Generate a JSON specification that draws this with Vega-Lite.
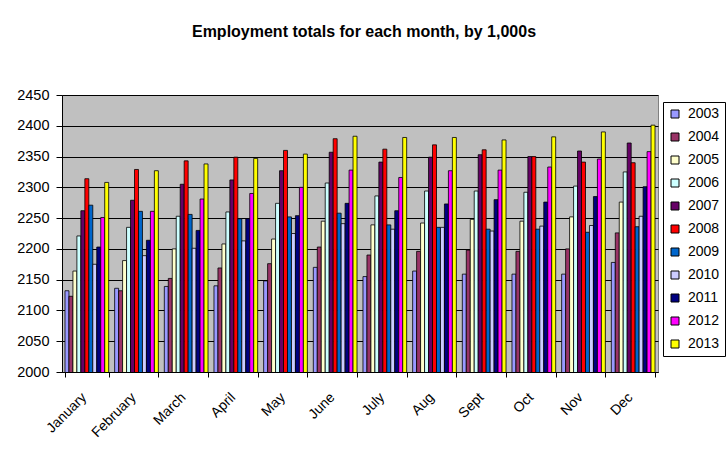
{
  "$schema": "https://vega.github.io/schema/vega-lite/v6.json",
  "autosize": {"type": "none"},
  "width": 596,
  "height": 277,
  "padding": {"left": 62, "top": 95, "right": 70, "bottom": 86},
  "background": "white",
  "title": {
    "text": "Employment totals for each month, by 1,000s",
    "font": "Liberation Sans",
    "fontSize": 16,
    "fontWeight": "bold",
    "color": "black",
    "anchor": "middle",
    "frame": "group",
    "baseline": "alphabetic",
    "offset": 34,
    "dx": 4
  },
  "config": {
    "font": "Liberation Sans",
    "view": {"fill": "#C0C0C0", "stroke": "#808080", "strokeWidth": 1}
  },
  "data": {
    "values": [
      {"month": "January", "year": "2003", "value": 2132},
      {"month": "January", "year": "2004", "value": 2123},
      {"month": "January", "year": "2005", "value": 2164},
      {"month": "January", "year": "2006", "value": 2221},
      {"month": "January", "year": "2007", "value": 2262},
      {"month": "January", "year": "2008", "value": 2314},
      {"month": "January", "year": "2009", "value": 2271},
      {"month": "January", "year": "2010", "value": 2175},
      {"month": "January", "year": "2011", "value": 2203},
      {"month": "January", "year": "2012", "value": 2251},
      {"month": "January", "year": "2013", "value": 2308},
      {"month": "February", "year": "2003", "value": 2136},
      {"month": "February", "year": "2004", "value": 2132},
      {"month": "February", "year": "2005", "value": 2181},
      {"month": "February", "year": "2006", "value": 2235},
      {"month": "February", "year": "2007", "value": 2279},
      {"month": "February", "year": "2008", "value": 2329},
      {"month": "February", "year": "2009", "value": 2261},
      {"month": "February", "year": "2010", "value": 2189},
      {"month": "February", "year": "2011", "value": 2214},
      {"month": "February", "year": "2012", "value": 2261},
      {"month": "February", "year": "2013", "value": 2327},
      {"month": "March", "year": "2003", "value": 2139},
      {"month": "March", "year": "2004", "value": 2152},
      {"month": "March", "year": "2005", "value": 2200},
      {"month": "March", "year": "2006", "value": 2253},
      {"month": "March", "year": "2007", "value": 2305},
      {"month": "March", "year": "2008", "value": 2343},
      {"month": "March", "year": "2009", "value": 2256},
      {"month": "March", "year": "2010", "value": 2201},
      {"month": "March", "year": "2011", "value": 2230},
      {"month": "March", "year": "2012", "value": 2281},
      {"month": "March", "year": "2013", "value": 2338},
      {"month": "April", "year": "2003", "value": 2140},
      {"month": "April", "year": "2004", "value": 2169},
      {"month": "April", "year": "2005", "value": 2208},
      {"month": "April", "year": "2006", "value": 2260},
      {"month": "April", "year": "2007", "value": 2312},
      {"month": "April", "year": "2008", "value": 2349},
      {"month": "April", "year": "2009", "value": 2249},
      {"month": "April", "year": "2010", "value": 2213},
      {"month": "April", "year": "2011", "value": 2249},
      {"month": "April", "year": "2012", "value": 2290},
      {"month": "April", "year": "2013", "value": 2347},
      {"month": "May", "year": "2003", "value": 2148},
      {"month": "May", "year": "2004", "value": 2176},
      {"month": "May", "year": "2005", "value": 2216},
      {"month": "May", "year": "2006", "value": 2274},
      {"month": "May", "year": "2007", "value": 2327},
      {"month": "May", "year": "2008", "value": 2360},
      {"month": "May", "year": "2009", "value": 2252},
      {"month": "May", "year": "2010", "value": 2225},
      {"month": "May", "year": "2011", "value": 2254},
      {"month": "May", "year": "2012", "value": 2300},
      {"month": "May", "year": "2013", "value": 2354},
      {"month": "June", "year": "2003", "value": 2170},
      {"month": "June", "year": "2004", "value": 2203},
      {"month": "June", "year": "2005", "value": 2245},
      {"month": "June", "year": "2006", "value": 2307},
      {"month": "June", "year": "2007", "value": 2357},
      {"month": "June", "year": "2008", "value": 2379},
      {"month": "June", "year": "2009", "value": 2258},
      {"month": "June", "year": "2010", "value": 2241},
      {"month": "June", "year": "2011", "value": 2274},
      {"month": "June", "year": "2012", "value": 2328},
      {"month": "June", "year": "2013", "value": 2383},
      {"month": "July", "year": "2003", "value": 2155},
      {"month": "July", "year": "2004", "value": 2190},
      {"month": "July", "year": "2005", "value": 2239},
      {"month": "July", "year": "2006", "value": 2286},
      {"month": "July", "year": "2007", "value": 2341},
      {"month": "July", "year": "2008", "value": 2362},
      {"month": "July", "year": "2009", "value": 2239},
      {"month": "July", "year": "2010", "value": 2232},
      {"month": "July", "year": "2011", "value": 2262},
      {"month": "July", "year": "2012", "value": 2316},
      {"month": "July", "year": "2013", "value": 2381},
      {"month": "Aug", "year": "2003", "value": 2164},
      {"month": "Aug", "year": "2004", "value": 2196},
      {"month": "Aug", "year": "2005", "value": 2242},
      {"month": "Aug", "year": "2006", "value": 2294},
      {"month": "Aug", "year": "2007", "value": 2349},
      {"month": "Aug", "year": "2008", "value": 2369},
      {"month": "Aug", "year": "2009", "value": 2235},
      {"month": "Aug", "year": "2010", "value": 2235},
      {"month": "Aug", "year": "2011", "value": 2273},
      {"month": "Aug", "year": "2012", "value": 2327},
      {"month": "Aug", "year": "2013", "value": 2381},
      {"month": "Sept", "year": "2003", "value": 2159},
      {"month": "Sept", "year": "2004", "value": 2198},
      {"month": "Sept", "year": "2005", "value": 2248},
      {"month": "Sept", "year": "2006", "value": 2294},
      {"month": "Sept", "year": "2007", "value": 2353},
      {"month": "Sept", "year": "2008", "value": 2361},
      {"month": "Sept", "year": "2009", "value": 2232},
      {"month": "Sept", "year": "2010", "value": 2229},
      {"month": "Sept", "year": "2011", "value": 2280},
      {"month": "Sept", "year": "2012", "value": 2328},
      {"month": "Sept", "year": "2013", "value": 2377},
      {"month": "Oct", "year": "2003", "value": 2159},
      {"month": "Oct", "year": "2004", "value": 2196},
      {"month": "Oct", "year": "2005", "value": 2245},
      {"month": "Oct", "year": "2006", "value": 2292},
      {"month": "Oct", "year": "2007", "value": 2350},
      {"month": "Oct", "year": "2008", "value": 2350},
      {"month": "Oct", "year": "2009", "value": 2232},
      {"month": "Oct", "year": "2010", "value": 2237},
      {"month": "Oct", "year": "2011", "value": 2276},
      {"month": "Oct", "year": "2012", "value": 2333},
      {"month": "Oct", "year": "2013", "value": 2382},
      {"month": "Nov", "year": "2003", "value": 2159},
      {"month": "Nov", "year": "2004", "value": 2200},
      {"month": "Nov", "year": "2005", "value": 2252},
      {"month": "Nov", "year": "2006", "value": 2302},
      {"month": "Nov", "year": "2007", "value": 2359},
      {"month": "Nov", "year": "2008", "value": 2341},
      {"month": "Nov", "year": "2009", "value": 2227},
      {"month": "Nov", "year": "2010", "value": 2238},
      {"month": "Nov", "year": "2011", "value": 2285},
      {"month": "Nov", "year": "2012", "value": 2346},
      {"month": "Nov", "year": "2013", "value": 2390},
      {"month": "Dec", "year": "2003", "value": 2178},
      {"month": "Dec", "year": "2004", "value": 2226},
      {"month": "Dec", "year": "2005", "value": 2276},
      {"month": "Dec", "year": "2006", "value": 2325},
      {"month": "Dec", "year": "2007", "value": 2372},
      {"month": "Dec", "year": "2008", "value": 2340},
      {"month": "Dec", "year": "2009", "value": 2236},
      {"month": "Dec", "year": "2010", "value": 2253},
      {"month": "Dec", "year": "2011", "value": 2301},
      {"month": "Dec", "year": "2012", "value": 2358},
      {"month": "Dec", "year": "2013", "value": 2401}
    ]
  },
  "mark": {"type": "bar", "stroke": "black", "strokeWidth": 0.8, "clip": true},
  "encoding": {
    "x": {
      "field": "month",
      "type": "nominal",
      "sort": null,
      "scale": {"paddingInner": 0.12, "paddingOuter": 0.06},
      "axis": {
        "title": null,
        "labelAngle": -45,
        "labelAlign": "right",
        "labelBaseline": "middle",
        "labelFontSize": 14,
        "labelColor": "black",
        "labelPadding": 18,
        "labelOffset": -3,
        "tickBand": "extent",
        "tickSize": 5,
        "tickColor": "black",
        "domainColor": "black",
        "grid": false
      }
    },
    "xOffset": {"field": "year", "type": "nominal", "scale": {"paddingInner": 0, "paddingOuter": 0}},
    "y": {
      "field": "value",
      "type": "quantitative",
      "scale": {"domain": [2000, 2450], "nice": false, "zero": false},
      "axis": {
        "title": null,
        "format": "d",
        "values": [2000, 2050, 2100, 2150, 2200, 2250, 2300, 2350, 2400, 2450],
        "labelFontSize": 14.5,
        "labelColor": "black",
        "labelPadding": 7,
        "tickSize": 6,
        "tickColor": "black",
        "domainColor": "black",
        "grid": true,
        "gridColor": "black",
        "gridWidth": 1,
        "gridOpacity": 1
      }
    },
    "color": {
      "field": "year",
      "type": "nominal",
      "scale": {
        "domain": ["2003", "2004", "2005", "2006", "2007", "2008", "2009", "2010", "2011", "2012", "2013"],
        "range": ["#9999FF", "#993366", "#FFFFCC", "#CCFFFF", "#660066", "#FF0000", "#0066CC", "#CCCCFF", "#000080", "#FF00FF", "#FFFF00"]
      },
      "legend": {
        "title": null,
        "orient": "none",
        "legendX": 601,
        "legendY": 7,
        "fillColor": "white",
        "strokeColor": "black",
        "padding": 5,
        "symbolType": "square",
        "symbolSize": 64,
        "symbolStrokeColor": "black",
        "symbolStrokeWidth": 1,
        "symbolOpacity": 1,
        "labelFontSize": 14,
        "labelColor": "black",
        "labelOffset": 6,
        "rowPadding": 9
      }
    }
  }
}
